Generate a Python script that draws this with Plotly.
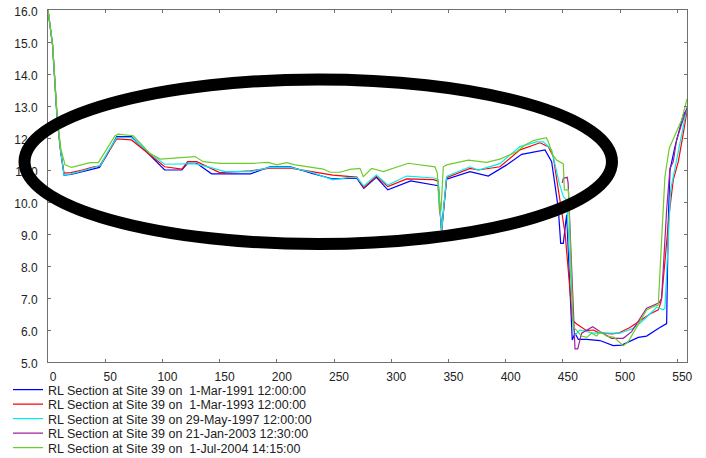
import plotly.graph_objects as go

# ---- survey sections: chainage (m) and reduced level (m) ----
x_1991 = [0, 4, 8, 11, 14, 20, 30, 40, 45, 52, 60, 73, 88, 102, 117, 122, 130, 143,
          160, 177, 194, 212, 230, 249, 262, 270, 276, 287, 297, 317, 341, 344, 348.4,
          368.8, 384.8, 400.9, 414, 434.4, 440.2, 446, 448.1, 450.4, 453.3, 458.2,
          460.6, 463.5, 470.8, 482.4, 494, 501.4, 515.9, 523.2, 533.4, 540.7, 542.1,
          543.6, 548, 555.3, 558.5]
rl_1991 = [16.0, 14.9, 12.6, 11.6, 10.84, 10.86, 10.95, 11.05, 11.08, 11.5, 12.04, 12.04,
           11.5, 11.0, 11.0, 11.21, 11.21, 10.88, 10.88, 10.88, 11.1, 11.1, 10.9, 10.72,
           10.74, 10.74, 10.43, 10.77, 10.38, 10.66, 10.51, 9.12, 10.71, 10.95, 10.81,
           11.16, 11.49, 11.63, 11.26, 9.8, 8.71, 8.71, 9.6, 5.69, 5.9, 5.71, 5.71,
           5.67, 5.51, 5.53, 5.77, 5.81, 6.05, 6.2, 9.33, 11.0, 11.73, 12.72, 12.9]

x_1993 = [0, 4, 8, 11, 14, 20, 30, 40, 45, 52, 60, 73, 88, 102, 117, 122, 130, 150,
          177, 194, 212, 230, 249, 262, 270, 276, 287, 297, 313.5, 337, 341, 344,
          348.4, 368.8, 376.1, 395, 412.5, 430, 437.3, 441.6, 447.5, 450.4, 452,
          458.5, 462.1, 470.8, 476.6, 481, 492.6, 498.4, 508.6, 517.4, 526.1, 533.4,
          535.4, 536.3, 543, 546.5, 550.9, 555.3, 558.5]
rl_1993 = [16.0, 14.9, 12.6, 11.6, 10.9, 10.92, 11.0, 11.1, 11.12, 11.5, 11.97, 11.94,
           11.5, 11.1, 11.03, 11.26, 11.26, 10.92, 10.97, 11.06, 11.06, 10.95, 10.84,
           10.8, 10.78, 10.45, 10.8, 10.48, 10.72, 10.7, 10.65, 9.05, 10.76, 11.05,
           11.0, 11.1, 11.63, 11.85, 11.73, 11.42, 10.06, 9.33, 9.0, 6.3, 6.19, 5.98,
           6.0, 5.92, 5.88, 5.9, 6.08, 6.29, 6.5, 6.63, 6.83, 6.99, 9.65, 10.69, 11.26,
           12.15, 12.85]

x_1997 = [0, 4, 8, 11, 14, 20, 30, 40, 46, 52, 60, 73, 88, 102, 115, 128, 140, 155,
          177, 194, 212, 230, 249, 262, 270, 276, 287, 297, 313.5, 338, 341, 344,
          348.4, 368.8, 376.1, 395, 412.5, 427.1, 433, 440.2, 446.9, 450.4, 453.3,
          459.1, 460.6, 465, 476.6, 488.3, 499.9, 511.5, 518.9, 529, 531.9, 537.7,
          539.2, 542.1, 544.2, 549.4, 553.8, 558.5]
rl_1997 = [16.0, 14.9, 12.6, 11.6, 10.85, 10.88, 10.97, 11.08, 11.15, 11.55, 12.01,
           12.01, 11.55, 11.18, 11.18, 11.2, 11.1, 10.95, 10.95, 11.08, 11.08, 10.93,
           10.69, 10.76, 10.76, 10.5, 10.84, 10.53, 10.81, 10.75, 10.7, 9.1, 10.8, 11.1,
           11.0, 11.2, 11.73, 11.88, 11.88, 11.63, 10.58, 10.17, 10.06, 6.1, 5.84, 6.0,
           5.9, 5.9, 5.9, 6.05, 6.26, 6.6, 6.71, 6.63, 6.68, 8.81, 10.38, 11.31, 12.15,
           12.95]

x_2003 = [449.5, 450.4, 453.8, 454.6, 460.6, 463, 466.4, 470.8, 476, 482.4, 492.6,
          502.8, 510.1, 523.2, 534.2, 536.3, 540.7, 543.6, 546.5, 549.4, 556.7, 558.5]
rl_2003 = [10.6, 10.74, 10.77, 10.6, 5.41, 5.41, 5.9, 6.0, 6.1, 5.95, 5.74, 5.74,
           5.95, 6.68, 6.85, 6.99, 9.75, 11.05, 11.26, 11.94, 12.72, 12.95]

x_2004 = [0, 4, 8, 11, 14.9, 20.7, 36.7, 44, 58.6, 61.5, 74.6, 89, 98, 115.4, 128.5,
          135.7, 150.3, 179.4, 192.5, 200, 208.6, 216, 240.6, 246.5, 255.2, 263.9,
          272.7, 275.6, 282.9, 293, 314.9, 338.2, 340.3, 342, 343.5, 345.5, 348.4,
          367.3, 383.3, 395, 409.6, 416.9, 424.2, 435.5, 437.3, 441.1, 444.6, 450.4,
          451.3, 454.8, 459.1, 466.4, 470.8, 475.2, 479.5, 482.4, 488.3, 494.7, 502.8,
          507.1, 514.4, 523.2, 529, 533.4, 536.3, 539.2, 543, 546.5, 549.4, 553.8, 558.5]
rl_2004 = [16.0, 14.95, 12.7, 11.7, 11.16, 11.08, 11.23, 11.23, 12.07, 12.12, 12.07,
           11.52, 11.34, 11.39, 11.42, 11.26, 11.21, 11.21, 11.24, 11.16, 11.23, 11.16,
           11.03, 10.93, 10.93, 11.02, 11.05, 10.79, 11.05, 10.95, 11.21, 11.1, 10.9,
           9.74, 9.74, 11.1, 11.16, 11.31, 11.24, 11.34, 11.57, 11.78, 11.92, 12.01,
           11.88, 11.47, 11.31, 11.19, 10.38, 10.38, 6.1, 5.81, 5.77, 5.9, 5.81, 5.95,
           5.81, 5.77, 5.51, 5.63, 6.1, 6.63, 6.73, 6.78, 8.81, 10.79, 11.68, 11.94,
           12.2, 12.56, 13.22]

series_names = [
    "RL Section at Site 39 on \u00a01-Mar-1991 12:00:00",
    "RL Section at Site 39 on \u00a01-Mar-1993 12:00:00",
    "RL Section at Site 39 on 29-May-1997 12:00:00",
    "RL Section at Site 39 on 21-Jan-2003 12:30:00",
    "RL Section at Site 39 on \u00a01-Jul-2004 14:15:00",
]
series_x = [x_1991, x_1993, x_1997, x_2003, x_2004]
series_y = [rl_1991, rl_1993, rl_1997, rl_2003, rl_2004]
series_colors = ["#0000ff", "#ff0000", "#00eeee", "#a0209a", "#6ccc2a"]

x_ticks = list(range(0, 551, 50))
y_ticks = [5.0, 6.0, 7.0, 8.0, 9.0, 10.0, 11.0, 12.0, 13.0, 14.0, 15.0, 16.0]

FONT = "Liberation Sans, Arial, Helvetica, sans-serif"
W, H = 706, 458
ML, MR, MT, MB = 48, 19, 10, 96
plot_w = W - ML - MR
plot_h = H - MT - MB

fig = go.Figure()
legend_keys = ["legend", "legend2", "legend3", "legend4", "legend5"]
for name, xs, ys, col, lg in zip(series_names, series_x, series_y, series_colors, legend_keys):
    fig.add_trace(go.Scatter(x=xs, y=ys, mode="lines", name=name,
                             line=dict(color=col, width=1.2), legend=lg))

# one single-entry legend per series so the rows can sit tightly stacked
row_centres_px = [390, 404.5, 419, 433.5, 448]
legend_layout = {}
for lg, cy in zip(legend_keys, row_centres_px):
    legend_layout[lg] = dict(
        x=(8 - ML) / plot_w, xanchor="left",
        y=(H - MB - cy) / plot_h, yanchor="middle",
        bgcolor="rgba(0,0,0,0)", borderwidth=0,
        font=dict(family=FONT, size=12.5, color="#222"),
    )

axis_common = dict(
    showline=True, linecolor="#707070", linewidth=1, mirror="ticks",
    ticks="inside", ticklen=3, tickcolor="#707070", showgrid=False, zeroline=False,
    tickfont=dict(family=FONT, size=12, color="#222"),
)

fig.update_layout(
    width=W, height=H,
    margin=dict(l=ML, r=MR, t=MT, b=MB, autoexpand=False),
    paper_bgcolor="white", plot_bgcolor="white",
    xaxis=dict(range=[0, 558.5], tickvals=x_ticks, ticklabelstandoff=4,
               ticklabelshift=5, **axis_common),
    yaxis=dict(range=[5, 16], tickvals=y_ticks, tickformat=".1f",
               ticklabelstandoff=7, ticklabelshift=2, **axis_common),
    showlegend=True,
    **legend_layout,
)

# highlight ring around the upper reach of the section
fig.add_shape(type="circle", xref="paper", yref="paper",
              x0=(24.5 - ML) / plot_w, x1=(612 - ML) / plot_w,
              y0=(H - MB - 244) / plot_h, y1=(H - MB - 79.5) / plot_h,
              line=dict(color="black", width=12), layer="above")

fig.write_html("out.html")
